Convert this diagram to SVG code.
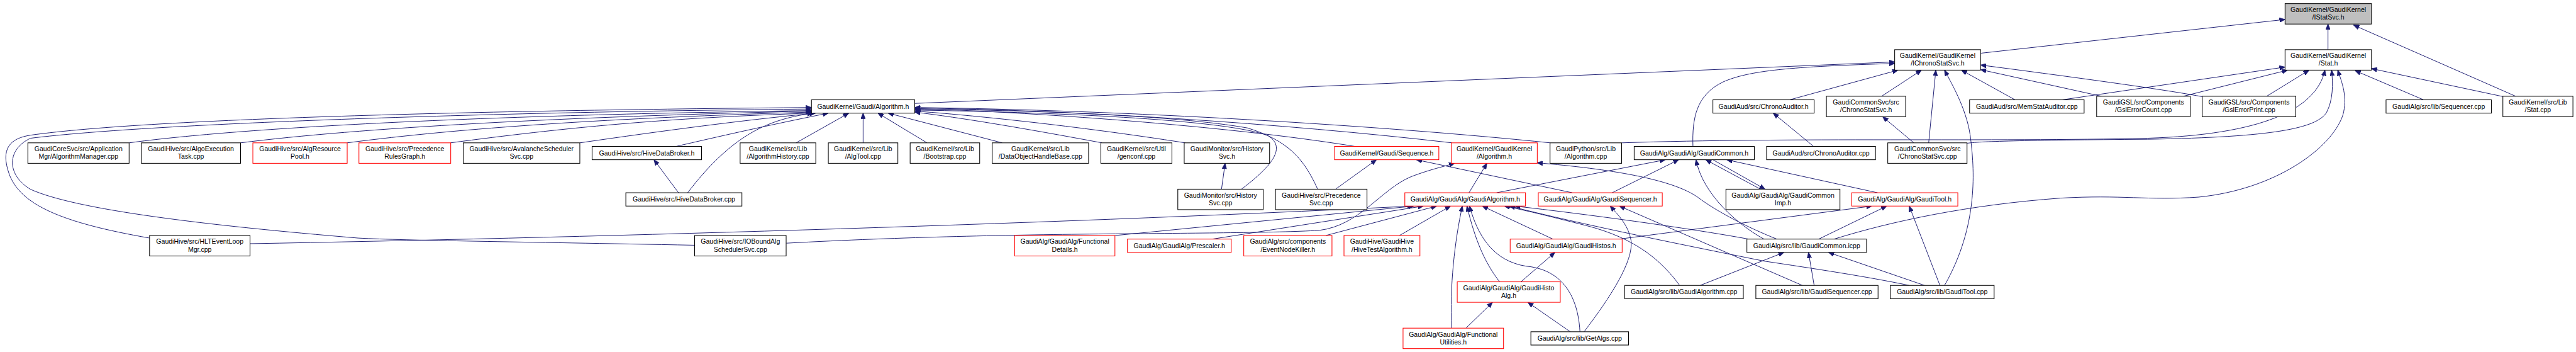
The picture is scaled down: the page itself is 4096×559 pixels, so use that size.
<svg xmlns="http://www.w3.org/2000/svg" width="4096" height="559" viewBox="0 0 4096 559">
<defs>
<marker id="ah" viewBox="0 0 11 9" refX="11" refY="4.5" markerWidth="11" markerHeight="9" markerUnits="userSpaceOnUse" orient="auto"><path d="M0,0 L11,4.5 L0,9 z" fill="#191970" stroke="#191970" stroke-width="1"/></marker>
<style>
.e{fill:none;stroke:#191970;stroke-width:1.2;marker-end:url(#ah)}
.b{fill:#ffffff;stroke:#000000;stroke-width:1.3}
.r{fill:#ffffff;stroke:#ff0000;stroke-width:1.3}
.g{fill:#bfbfbf;stroke:#000000;stroke-width:1.3}
text{font-family:"Liberation Sans",Arial,sans-serif;font-size:13px;text-anchor:middle;fill:#000000}
</style>
</defs>
<rect width="4096" height="559" fill="#ffffff"/>
<g transform="scale(0.81302)">
<g id="edges">
<path class="e" d="M4553,97 L4553,47"/>
<path class="e" d="M3873.5,104 L4469,38"/>
<path class="e" d="M4920,188 L4603,49"/>
<path class="e" d="M4897,189 L4638,134"/>
<path class="e" d="M4740,195 L4606,138"/>
<path class="e" d="M4433,188 L4516,137"/>
<path class="e" d="M4270,188 L4474,137"/>
<path class="e" d="M4033,195 L4469,131"/>
<path class="e" d="M3941,195 L3836,137"/>
<path class="e" d="M4110,188 L3873.5,136"/>
<path class="e" d="M4308,189 Q4220,172 3873.5,127"/>
<path class="e" d="M3772,279 L3786,137"/>
<path class="e" d="M3680,188 L3758,137"/>
<path class="e" d="M3500,195 L3712,137"/>
<path class="e" d="M3803,557.5 C3870,440 3862,330 3853,263 C3845,210 3815,160 3803,137"/>
<path class="e" d="M1789,202 L3705.5,121"/>
<path class="e" d="M3311,286 C3309,230 3318,185 3370,160 C3420,138 3500,130 3705.5,124"/>
<path class="e" d="M3743,279 L3682,228"/>
<path class="e" d="M3547,286 L3468,221"/>
<path class="e" d="M3172,279 C3500,268 3900,277 4200,270 C4420,263 4530,215 4547,137"/>
<path class="e" d="M3846,280 C3870,276 3950,274 4200,272 C4450,268 4530,250 4550,220 C4563,195 4563,165 4560,137"/>
<path class="e" d="M3587,467 C3700,432 3850,400 4030,387 C4150,380 4200,392 4300,385 C4450,370 4560,290 4582,225 C4592,190 4580,160 4572,137"/>
<path class="e" d="M2927,376.5 L3257,312"/>
<path class="e" d="M2873,376.5 L2908,319"/>
<path class="e" d="M3153,376.5 L3283,312"/>
<path class="e" d="M3075,376.5 L2770,312"/>
<path class="e" d="M3443,369.5 L3336,312"/>
<path class="e" d="M3350,312 L3452,369.5"/>
<path class="e" d="M3672,376.5 L3377,312"/>
<path class="e" d="M3450,467 C3400,440 3330,380 3317,312"/>
<path class="e" d="M3475,467 C3420,445 3360,415 3320,385 C3270,350 3150,330 3006,318"/>
<path class="e" d="M3420,467 C3300,445 3100,418 2962,402.5"/>
<path class="e" d="M3734,557.5 C3650,540 3550,525 3450,510 C3300,480 3100,440 2952,402.5"/>
<path class="e" d="M3285,557.5 C3250,510 3200,465 3100,440 C3040,425 2990,412 2942,402.5"/>
<path class="e" d="M3557,467 L3690,402.5"/>
<path class="e" d="M3794,557.5 L3734,402.5"/>
<path class="e" d="M3764,557.5 L3576,493"/>
<path class="e" d="M3548,557.5 L3537,493"/>
<path class="e" d="M3525,557.5 L3167,402.5"/>
<path class="e" d="M3325,557.5 L3489,493"/>
<path class="e" d="M3167,467 L3661,402.5"/>
<path class="e" d="M3037,467 L2899,402.5"/>
<path class="e" d="M2974.5,550.5 L3041,493"/>
<path class="e" d="M2933,550.5 C2905,515 2885,470 2869,402.5"/>
<path class="e" d="M2839,641 C2835,560 2845,470 2860,402.5"/>
<path class="e" d="M2867,641 L2919,590.5"/>
<path class="e" d="M3071,648 L2988,590.5"/>
<path class="e" d="M3090,648 C3085,560 3040,525 2985,520 C2920,510 2890,460 2874,402.5"/>
<path class="e" d="M3098,648 C3150,580 3195,510 3190,470 C3185,440 3165,420 3149,402.5"/>
<path class="e" d="M2737,460 L2837,402.5"/>
<path class="e" d="M2593,460 L2810,402.5"/>
<path class="e" d="M2371,467 L2784,402.5"/>
<path class="e" d="M2181,460 L2766,402.5"/>
<path class="e" d="M489,476 C1100,465 2000,440 2763,402.5"/>
<path class="e" d="M1538,475 C2000,450 2400,460 2580,450 C2660,440 2700,370 2760,345 C2800,330 2825,325 2845,319"/>
<path class="e" d="M1358.5,479 C1000,472 800,470 700,465 C400,440 150,410 60,370 C10,340 15,290 60,270 C300,240 1000,218 1587,213"/>
<path class="e" d="M292.5,465 C120,435 40,400 18,340 C0,290 20,270 60,264 C300,230 1000,215 1587,210"/>
<path class="e" d="M252.5,279 C450,252 900,225 1587,216"/>
<path class="e" d="M470.5,279 C700,250 1100,228 1587,217"/>
<path class="e" d="M679,279 C900,250 1200,230 1587,219"/>
<path class="e" d="M881,279 C1100,250 1300,230 1590,221"/>
<path class="e" d="M1134,279 C1300,255 1450,235 1595,221"/>
<path class="e" d="M1322,286 C1400,268 1500,245 1620,221"/>
<path class="e" d="M1345,376.5 C1380,330 1420,290 1460,265 C1500,240 1540,228 1590,221"/>
<path class="e" d="M1327,376.5 L1279,312"/>
<path class="e" d="M1557,279 L1660,221"/>
<path class="e" d="M1688,279 L1688,221"/>
<path class="e" d="M1813,279 L1717,221"/>
<path class="e" d="M1960,279 L1737,221"/>
<path class="e" d="M2155,279 C2000,250 1880,230 1789,219"/>
<path class="e" d="M2318,279 C2100,245 1900,225 1789,217"/>
<path class="e" d="M2428,369.5 C2480,330 2520,290 2480,265 C2400,235 2100,220 1789,215"/>
<path class="e" d="M2389,369.5 L2396,319"/>
<path class="e" d="M2577,369.5 C2550,310 2520,275 2440,250 C2300,225 2000,215 1789,213"/>
<path class="e" d="M2612,369.5 L2692,312"/>
<path class="e" d="M2650,286 C2400,245 2000,218 1789,212"/>
<path class="e" d="M2840,279 C2500,240 2100,215 1789,211"/>
<path class="e" d="M3032,279 C2700,245 2200,215 1789,210"/>
</g>
<g id="n1"><rect class="g" x="4469" y="7" width="169" height="40"/><text x="4553.5" y="23.5">GaudiKernel/GaudiKernel</text><text x="4553.5" y="38.5">/IStatSvc.h</text></g>
<g id="n2"><rect class="b" x="3705.5" y="97" width="168" height="40"/><text x="3789.5" y="113.5">GaudiKernel/GaudiKernel</text><text x="3789.5" y="128.5">/IChronoStatSvc.h</text></g>
<g id="n3"><rect class="b" x="4469" y="97" width="169" height="40"/><text x="4553.5" y="113.5">GaudiKernel/GaudiKernel</text><text x="4553.5" y="128.5">/Stat.h</text></g>
<g id="n4"><rect class="b" x="1587" y="195" width="202" height="26"/><text x="1688" y="212.5">GaudiKernel/Gaudi/Algorithm.h</text></g>
<g id="n5"><rect class="b" x="3350" y="195" width="198" height="26"/><text x="3449" y="212.5">GaudiAud/src/ChronoAuditor.h</text></g>
<g id="n6"><rect class="b" x="3572" y="188" width="155" height="40"/><text x="3649.5" y="204.5">GaudiCommonSvc/src</text><text x="3649.5" y="219.5">/ChronoStatSvc.h</text></g>
<g id="n7"><rect class="b" x="3852" y="195" width="224" height="26"/><text x="3964" y="212.5">GaudiAud/src/MemStatAuditor.cpp</text></g>
<g id="n8"><rect class="b" x="4100.5" y="188" width="183" height="40"/><text x="4192" y="204.5">GaudiGSL/src/Components</text><text x="4192" y="219.5">/GslErrorCount.cpp</text></g>
<g id="n9"><rect class="b" x="4307" y="188" width="183" height="40"/><text x="4398.5" y="204.5">GaudiGSL/src/Components</text><text x="4398.5" y="219.5">/GslErrorPrint.cpp</text></g>
<g id="n10"><rect class="b" x="4666.5" y="195" width="206" height="26"/><text x="4769.5" y="212.5">GaudiAlg/src/lib/Sequencer.cpp</text></g>
<g id="n11"><rect class="b" x="4895" y="188" width="137" height="40"/><text x="4963.5" y="204.5">GaudiKernel/src/Lib</text><text x="4963.5" y="219.5">/Stat.cpp</text></g>
<g id="n12"><rect class="b" x="54.5" y="279" width="198" height="40"/><text x="153.5" y="295.5">GaudiCoreSvc/src/Application</text><text x="153.5" y="310.5">Mgr/AlgorithmManager.cpp</text></g>
<g id="n13"><rect class="b" x="276.5" y="279" width="194" height="40"/><text x="373.5" y="295.5">GaudiHive/src/AlgoExecution</text><text x="373.5" y="310.5">Task.cpp</text></g>
<g id="n14"><rect class="r" x="494.5" y="279" width="184.5" height="40"/><text x="586.75" y="295.5">GaudiHive/src/AlgResource</text><text x="586.75" y="310.5">Pool.h</text></g>
<g id="n15"><rect class="r" x="702" y="279" width="179.5" height="40"/><text x="791.75" y="295.5">GaudiHive/src/Precedence</text><text x="791.75" y="310.5">RulesGraph.h</text></g>
<g id="n16"><rect class="b" x="906" y="279" width="228" height="40"/><text x="1020" y="295.5">GaudiHive/src/AvalancheScheduler</text><text x="1020" y="310.5">Svc.cpp</text></g>
<g id="n17"><rect class="b" x="1158" y="286" width="214" height="26"/><text x="1265" y="303.5">GaudiHive/src/HiveDataBroker.h</text></g>
<g id="n18"><rect class="b" x="1447.5" y="279" width="148" height="40"/><text x="1521.5" y="295.5">GaudiKernel/src/Lib</text><text x="1521.5" y="310.5">/AlgorithmHistory.cpp</text></g>
<g id="n19"><rect class="b" x="1620" y="279" width="136" height="40"/><text x="1688" y="295.5">GaudiKernel/src/Lib</text><text x="1688" y="310.5">/AlgTool.cpp</text></g>
<g id="n20"><rect class="b" x="1780" y="279" width="136" height="40"/><text x="1848" y="295.5">GaudiKernel/src/Lib</text><text x="1848" y="310.5">/Bootstrap.cpp</text></g>
<g id="n21"><rect class="b" x="1940.5" y="279" width="188.5" height="40"/><text x="2034.75" y="295.5">GaudiKernel/src/Lib</text><text x="2034.75" y="310.5">/DataObjectHandleBase.cpp</text></g>
<g id="n22"><rect class="b" x="2153" y="279" width="139" height="40"/><text x="2222.5" y="295.5">GaudiKernel/src/Util</text><text x="2222.5" y="310.5">/genconf.cpp</text></g>
<g id="n23"><rect class="b" x="2316" y="279" width="167" height="40"/><text x="2399.5" y="295.5">GaudiMonitor/src/History</text><text x="2399.5" y="310.5">Svc.h</text></g>
<g id="n24"><rect class="r" x="2610" y="286" width="204" height="26"/><text x="2712" y="303.5">GaudiKernel/Gaudi/Sequence.h</text></g>
<g id="n25"><rect class="r" x="2838.5" y="279" width="168" height="40"/><text x="2922.5" y="295.5">GaudiKernel/GaudiKernel</text><text x="2922.5" y="310.5">/Algorithm.h</text></g>
<g id="n26"><rect class="b" x="3031.5" y="279" width="140" height="40"/><text x="3101.5" y="295.5">GaudiPython/src/Lib</text><text x="3101.5" y="310.5">/Algorithm.cpp</text></g>
<g id="n27"><rect class="b" x="3196" y="286" width="235" height="26"/><text x="3313.5" y="303.5">GaudiAlg/GaudiAlg/GaudiCommon.h</text></g>
<g id="n28"><rect class="b" x="3455" y="286" width="213" height="26"/><text x="3561.5" y="303.5">GaudiAud/src/ChronoAuditor.cpp</text></g>
<g id="n29"><rect class="b" x="3692" y="279" width="155" height="40"/><text x="3769.5" y="295.5">GaudiCommonSvc/src</text><text x="3769.5" y="310.5">/ChronoStatSvc.cpp</text></g>
<g id="n30"><rect class="b" x="1224" y="376.5" width="227" height="26"/><text x="1337.5" y="394">GaudiHive/src/HiveDataBroker.cpp</text></g>
<g id="n31"><rect class="b" x="2303.5" y="369.5" width="167" height="40"/><text x="2387" y="386">GaudiMonitor/src/History</text><text x="2387" y="401">Svc.cpp</text></g>
<g id="n32"><rect class="b" x="2494.5" y="369.5" width="179" height="40"/><text x="2584" y="386">GaudiHive/src/Precedence</text><text x="2584" y="401">Svc.cpp</text></g>
<g id="n33"><rect class="r" x="2747.5" y="376.5" width="236" height="26"/><text x="2865.5" y="394">GaudiAlg/GaudiAlg/GaudiAlgorithm.h</text></g>
<g id="n34"><rect class="r" x="3008.5" y="376.5" width="242.5" height="26"/><text x="3129.75" y="394">GaudiAlg/GaudiAlg/GaudiSequencer.h</text></g>
<g id="n35"><rect class="b" x="3375.5" y="369.5" width="223" height="40"/><text x="3487" y="386">GaudiAlg/GaudiAlg/GaudiCommon</text><text x="3487" y="401">Imp.h</text></g>
<g id="n36"><rect class="r" x="3621.5" y="376.5" width="207.5" height="26"/><text x="3725.25" y="394">GaudiAlg/GaudiAlg/GaudiTool.h</text></g>
<g id="n37"><rect class="b" x="292.5" y="460" width="196.5" height="40"/><text x="390.75" y="476.5">GaudiHive/src/HLTEventLoop</text><text x="390.75" y="491.5">Mgr.cpp</text></g>
<g id="n38"><rect class="b" x="1358.5" y="460" width="179" height="40"/><text x="1448" y="476.5">GaudiHive/src/IOBoundAlg</text><text x="1448" y="491.5">SchedulerSvc.cpp</text></g>
<g id="n39"><rect class="r" x="1984.5" y="460" width="196" height="40"/><text x="2082.5" y="476.5">GaudiAlg/GaudiAlg/Functional</text><text x="2082.5" y="491.5">Details.h</text></g>
<g id="n40"><rect class="r" x="2205" y="467" width="203" height="26"/><text x="2306.5" y="484.5">GaudiAlg/GaudiAlg/Prescaler.h</text></g>
<g id="n41"><rect class="r" x="2432.5" y="460" width="172.5" height="40"/><text x="2518.75" y="476.5">GaudiAlg/src/components</text><text x="2518.75" y="491.5">/EventNodeKiller.h</text></g>
<g id="n42"><rect class="r" x="2628.5" y="460" width="148.5" height="40"/><text x="2702.75" y="476.5">GaudiHive/GaudiHive</text><text x="2702.75" y="491.5">/HiveTestAlgorithm.h</text></g>
<g id="n43"><rect class="r" x="2953.5" y="467" width="219" height="26"/><text x="3063" y="484.5">GaudiAlg/GaudiAlg/GaudiHistos.h</text></g>
<g id="n44"><rect class="b" x="3416.5" y="467" width="234" height="26"/><text x="3533.5" y="484.5">GaudiAlg/src/lib/GaudiCommon.icpp</text></g>
<g id="n45"><rect class="r" x="2850" y="550.5" width="201.5" height="40"/><text x="2950.75" y="567">GaudiAlg/GaudiAlg/GaudiHisto</text><text x="2950.75" y="582">Alg.h</text></g>
<g id="n46"><rect class="b" x="3177.5" y="557.5" width="232" height="26"/><text x="3293.5" y="575">GaudiAlg/src/lib/GaudiAlgorithm.cpp</text></g>
<g id="n47"><rect class="b" x="3434" y="557.5" width="239" height="26"/><text x="3553.5" y="575">GaudiAlg/src/lib/GaudiSequencer.cpp</text></g>
<g id="n48"><rect class="b" x="3697" y="557.5" width="203" height="26"/><text x="3798.5" y="575">GaudiAlg/src/lib/GaudiTool.cpp</text></g>
<g id="n49"><rect class="r" x="2744" y="641" width="196.5" height="40"/><text x="2842.25" y="657.5">GaudiAlg/GaudiAlg/Functional</text><text x="2842.25" y="672.5">Utilities.h</text></g>
<g id="n50"><rect class="b" x="2994" y="648" width="191" height="26"/><text x="3089.5" y="665.5">GaudiAlg/src/lib/GetAlgs.cpp</text></g>
</g>
</svg>
